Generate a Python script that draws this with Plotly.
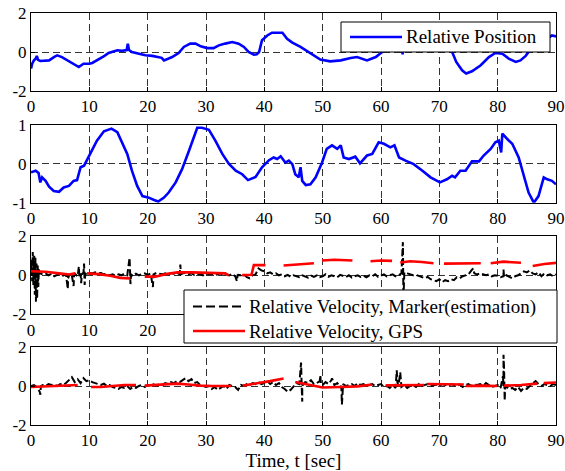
import numpy as np
import plotly.graph_objects as go

FONT = "Times New Roman"

# ---- Panel 1: relative position ----
pos1_t = [0, 0.2, 0.5, 0.8, 1.0, 1.2, 1.6, 2.3, 3.1, 4.0,
          4.5, 5.3, 6.0, 6.8, 7.5, 8.2, 9.0, 10.0, 10.5, 11.2,
          11.9, 12.6, 13.3, 14.0, 14.8, 15.6, 16.4, 16.6, 16.8, 17.3,
          18.5, 19.6, 20.8, 21.9, 22.4, 22.8, 23.5, 24.2, 25.3, 26.2,
          27.3, 28.2, 29.1, 30.2, 31.3, 32.2, 33.3, 34.5, 35.6, 36.5,
          37.3, 38.2, 38.7, 39.1, 39.6, 40.5, 41.3, 42.2, 43.1, 43.9,
          44.8, 46.2, 48.1, 49.6, 51.3, 52.2, 53.1, 54.8, 55.9, 57.6,
          59.1, 60.2, 61.0, 62.0, 63.0, 63.6, 63.7, 63.8, 64.5, 65.5,
          66.5, 67.5, 68.5, 69.5, 70.5, 71.5, 72.2, 72.9, 73.9, 74.6,
          75.6, 77.1, 78.5, 79.6, 80.8, 81.9, 83.1, 83.9, 84.8, 85.3,
          86.0, 87.0, 88.0, 88.8, 89.3, 90.0]
pos1_v = [-0.85, -0.6, -0.43, -0.35, -0.2, -0.4, -0.46, -0.45, -0.43, -0.25,
          -0.17, -0.26, -0.38, -0.5, -0.62, -0.77, -0.6, -0.6, -0.56, -0.45,
          -0.34, -0.2, -0.05, 0.03, 0.09, 0.06, 0.1, 0.43, 0.1, 0.0,
          -0.09, -0.17, -0.2, -0.26, -0.3, -0.43, -0.36, -0.26, -0.05, 0.26,
          0.43, 0.43, 0.29, 0.2, 0.2, 0.34, 0.43, 0.51, 0.43, 0.26,
          0.0, -0.14, -0.12, 0.0, 0.6, 0.85, 0.99, 1.0, 0.99, 0.68,
          0.48, 0.26, -0.09, -0.39, -0.48, -0.44, -0.43, -0.31, -0.26, -0.43,
          -0.26, 0.0, 0.15, 0.25, 0.2, 0.15, -0.12, 0.2, 0.3, 0.4,
          0.5, 0.45, 0.35, 0.3, 0.25, 0.15, 0.0, -0.51, -0.94, -1.1,
          -0.99, -0.68, -0.26, -0.05, -0.09, -0.34, -0.51, -0.43, -0.2, 0.0,
          0.15, 0.35, 0.55, 0.75, 0.85, 0.8]

# ---- Panel 2: relative position, second axis ----
pos2_t = [0, 0.8, 1.3, 1.6, 1.9, 2.5, 3.1, 3.9, 4.8, 5.6,
          6.5, 7.3, 7.9, 8.5, 9.1, 10.2, 11.3, 12.5, 13.8, 14.8,
          15.6, 16.5, 17.3, 18.2, 19.1, 20.2, 21.1, 21.8, 22.8, 23.6,
          24.8, 25.9, 27.1, 27.9, 28.5, 29.3, 30.5, 31.6, 32.8, 33.9,
          35.1, 36.2, 37.2, 38.5, 39.6, 40.8, 41.6, 42.2, 42.8, 43.6,
          44.2, 44.8, 45.3, 45.9, 46.2, 46.5, 47.1, 47.9, 48.8, 49.9,
          50.7, 51.6, 52.5, 53.1, 53.6, 54.5, 55.6, 56.4, 57.6, 58.5,
          59.6, 60.5, 61.6, 62.3, 63.1, 64.2, 65.6, 67.1, 68.5, 70.1,
          71.3, 72.2, 72.7, 73.6, 74.5, 75.6, 76.8, 77.6, 78.8, 79.6,
          80.2, 80.6, 80.8, 81.6, 82.5, 83.6, 84.5, 85.3, 86.2, 87.0,
          87.9, 88.5, 89.3, 90.0]
pos2_v = [-0.22, -0.18, -0.24, -0.48, -0.35, -0.44, -0.59, -0.7, -0.72, -0.61,
          -0.57, -0.44, -0.42, -0.09, -0.05, 0.29, 0.59, 0.83, 0.9, 0.81,
          0.55, 0.25, -0.18, -0.57, -0.83, -0.87, -0.93, -0.97, -0.87, -0.74,
          -0.48, -0.14, 0.34, 0.68, 0.92, 0.92, 0.87, 0.59, 0.25, 0.0,
          -0.18, -0.27, -0.42, -0.34, -0.09, 0.09, 0.16, 0.12, 0.19, 0.03,
          0.08, -0.01, -0.27, -0.35, -0.09, -0.44, -0.55, -0.53, -0.35, 0.03,
          0.38, 0.47, 0.38, 0.47, 0.16, 0.12, 0.18, 0.01, 0.21, 0.25,
          0.55, 0.51, 0.42, 0.47, 0.16, 0.08, -0.01, -0.18, -0.35, -0.48,
          -0.40, -0.31, -0.35, -0.18, -0.18, 0.06, 0.06, 0.21, 0.38, 0.55,
          0.59, 0.29, 0.77, 0.64, 0.51, 0.16, -0.35, -0.74, -1.0, -0.83,
          -0.35, -0.4, -0.44, -0.53]

# ---- Panel 3: relative velocity (marker estimate, sampled every 0.5 s from t=2) ----
vel3_base = [0.05, 0.1, 0.0, 0.08, -0.05, 0.02, 0.1, -0.02, 0.05, -0.1,
             0.0, 0.08, -0.05, 0.1, 0.15, 0.05, 0.12, 0.1, 0.15, 0.1,
             0.12, 0.05, 0.08, 0.0, 0.05, -0.02, 0.05, 0.0, 0.08, 0.0,
             0.05, -0.05, 0.08, 0.0, 0.05, 0.1, 0.02, 0.1, 0.05, 0.12,
             0.08, 0.05, 0.1, 0.02, 0.12, 0.08, 0.15, 0.05, 0.1, 0.12,
             0.05, 0.1, 0.02, 0.08, 0.05, 0.0, 0.1, 0.05, 0.08, 0.02,
             0.05, 0.1, -0.02, 0.05, 0.0, 0.08, -0.05, 0.02, 0.0, 0.05,
             -0.1, -0.15, 0.0, 0.05, 0.35, 0.25, 0.2, 0.1, 0.15, 0.05,
             0.1, 0.0, 0.05, -0.05, 0.02, -0.08, 0.0, -0.05, -0.1, 0.0,
             -0.05, -0.12, -0.02, -0.08, 0.0, -0.1, -0.05, 0.05, -0.08, 0.0,
             -0.05, -0.1, 0.02, -0.05, -0.08, 0.0, -0.12, -0.05, 0.0, -0.08,
             -0.02, -0.1, 0.0, -0.05, 0.05, -0.08, 0.0, 0.05, -0.05, 0.0,
             0.05, -0.05, 0.0, 0.1, 0.15, 0.1, 0.05, 0.0, 0.02, -0.05,
             -0.1, -0.15, -0.08, -0.2, -0.25, -0.3, -0.2, -0.35, -0.25, -0.3,
             -0.2, -0.25, -0.1, -0.15, -0.05, 0.0, 0.05, 0.25, 0.1, 0.05,
             0.1, 0.05, 0.0, 0.05, -0.05, 0.0, -0.02, -0.1, -0.05, 0.0,
             -0.08, -0.15, -0.05, 0.0, 0.1, 0.2, 0.15, 0.25, 0.1, 0.05,
             0.15, -0.05, 0.1, 0.0, 0.05, -0.05, 0.05]
vel3_spike_t = [0, 0.1, 0.2, 0.3, 0.4, 0.55, 0.65, 0.75, 0.85, 0.95,
                1.05, 1.15, 1.25, 1.35, 1.5, 6.3, 6.4, 7.3, 7.4, 8.2,
                8.3, 8.6, 8.7, 9.1, 9.2, 9.3, 16.9, 17.05, 17.15, 20.9,
                21.0, 25.6, 25.7, 35.3, 35.4, 63.75, 63.85, 63.95, 75.8, 81.0,
                81.1]
vel3_spike_v = [0.2, 0.8, -0.3, 1.2, -0.5, 1.0, -1.0, 0.9, -1.35, 0.6,
                -1.2, 0.5, -0.6, 0.3, 0.1, -0.7, 0.05, -0.55, 0.05, 0.45,
                -0.1, -0.4, 0.05, 0.6, -0.5, 0.1, 0.9, -0.45, 0.05, -0.6,
                0.05, 0.55, 0.05, -0.3, 0.0, 1.7, -1.2, 0.1, 0.35, 0.3,
                -0.1]

# GPS velocity, panel 3 (None marks a dropout)
gps3_t = [0, 2.5, 4.8, 6.5, 7.6, None,
          9.6, 11.6, 13.6, 15.3, 17.0, None,
          19.5, 21.3, 23.1, 25.1, 27.6, 31.0, 33.3, 33.9, None,
          36.2, 37.8, 38.2, 40.2, None,
          43.3, 46.0, 48.5, None,
          49.9, 52.0, 55.1, None,
          58.2, 60.0, 61.9, None,
          63.3, 65.0, 67.0, 69.0, None,
          70.8, 74.0, 77.1, None,
          78.8, 81.0, 84.0, None,
          86.0, 88.0, 90.0]
gps3_v = [0.21, 0.18, 0.1, 0.04, 0.1, None,
          0.1, 0.06, -0.02, -0.13, -0.16, None,
          -0.07, -0.07, 0.06, 0.15, 0.15, 0.13, 0.1, 0.0, None,
          0.01, 0.03, 0.52, 0.52, None,
          0.5, 0.55, 0.62, None,
          0.76, 0.8, 0.76, None,
          0.72, 0.76, 0.74, None,
          0.66, 0.72, 0.68, 0.62, None,
          0.6, 0.6, 0.62, None,
          0.62, 0.7, 0.64, None,
          0.48, 0.58, 0.64]

# ---- Panel 4: relative velocity, second axis (sampled every 0.5 s from t=0) ----
vel4_base = [0.0, 0.05, -0.05, -0.3, 0.05, 0.0, 0.1, 0.05, 0.08, 0.0,
             0.1, 0.05, 0.15, 0.3, 0.45, 0.2, 0.35, 0.15, 0.4, 0.25,
             0.3, 0.2, 0.15, 0.1, 0.05, 0.12, 0.0, 0.05, -0.05, -0.1,
             -0.15, -0.05, -0.1, 0.0, -0.15, -0.05, -0.1, 0.0, 0.05, -0.05,
             0.05, 0.0, 0.08, 0.02, 0.1, 0.05, 0.15, 0.1, 0.2, 0.15,
             0.25, 0.2, 0.3, 0.4, 0.25, 0.35, 0.15, 0.2, 0.05, 0.0,
             -0.05, 0.0, -0.15, -0.05, -0.2, -0.1, 0.0, -0.15, 0.05, 0.0,
             -0.05, -0.2, 0.05, 0.0, 0.1, 0.05, 0.15, 0.1, 0.2, 0.1,
             0.15, 0.25, 0.1, 0.2, 0.05, 0.15, -0.05, -0.15, -0.3, -0.2,
             0.0, 0.15, 0.1, 0.05, 0.2, 0.15, 0.3, 0.1, 0.15, 0.25,
             0.05, 0.2, 0.1, 0.3, 0.05, 0.15, -0.05, 0.1, 0.0, 0.05,
             0.1, 0.0, 0.15, 0.05, 0.1, 0.0, 0.05, 0.1, 0.0, 0.05,
             0.1, -0.05, 0.0, -0.1, 0.05, -0.1, 0.0, -0.05, 0.05, -0.1,
             0.0, 0.05, -0.05, 0.1, 0.0, 0.05, 0.1, 0.0, 0.05, 0.08,
             0.0, 0.1, 0.05, 0.0, 0.1, 0.05, 0.0, 0.08, -0.05, 0.05,
             0.1, 0.0, 0.08, 0.05, 0.1, 0.0, 0.15, 0.05, -0.05, 0.0,
             0.05, -0.1, 0.0, -0.05, -0.15, -0.1, -0.2, -0.05, -0.25, -0.1,
             -0.15, 0.0, 0.15, 0.25, 0.1, 0.0, 0.1, 0.05, 0.0, 0.1,
             0.05]
vel4_spike_t = [1.6, 1.7, 46.3, 46.4, 46.5, 46.6, 49.6, 49.7, 51.6, 53.2,
                53.3, 53.4, 62.7, 62.8, 63.3, 63.4, 80.9, 81.0, 81.1, 81.2,
                81.3]
vel4_spike_v = [-0.45, 0.0, 1.2, 0.0, -0.8, 0.05, 0.55, 0.1, 0.4, 0.0,
                -0.95, 0.0, 0.8, 0.2, 0.7, 0.1, 0.5, 1.6, 0.9, -0.75,
                0.0]

gps4_t = [0, 3, 5.5, 8.0, None,
          10.3, 12, 14, 16, 18.0, None,
          19.5, 22, 25, 27, 29, 31, 34.3, None,
          36.3, 38.5, 41, 43.3, None,
          45.3, 47.5, 50, 53, 56, 58.5, None,
          60.8, 64, 67.4, None,
          67.9, 71, 74.2, None,
          74.5, 77, 79.9, None,
          81.1, 84, 86.8, None,
          87.9, 90]
gps4_v = [-0.05, 0.0, 0.02, 0.05, None,
          -0.05, -0.05, 0.0, 0.05, 0.05, None,
          0.02, 0.06, 0.12, 0.08, 0.02, 0.0, 0.0, None,
          0.02, 0.12, 0.25, 0.38, None,
          0.2, 0.08, -0.08, -0.05, -0.02, 0.08, None,
          0.03, 0.05, 0.05, None,
          0.1, 0.08, 0.08, None,
          0.0, 0.02, 0.0, None,
          0.02, 0.05, 0.12, None,
          0.15, 0.18]

x_ticks = [0, 10, 20, 30, 40, 50, 60, 70, 80, 90]
# the lower legend sits over the third panel's labels from 30 s on
x_labels_p3 = ["0", "10", "20", "", "", "", "", "", "", ""]

NAME_POS = "Relative Position"
NAME_MARKER = "Relative Velocity, Marker(estimation)"
NAME_GPS = "Relative Velocity, GPS"


def merged(t0, base, extra_t, extra_v):
    """Combine a regularly sampled record with extra samples, ordered by time."""
    t_base = list(t0 + 0.5 * np.arange(len(base)))
    pts = sorted(zip(t_base + list(extra_t), list(base) + list(extra_v)))
    return [p[0] for p in pts], [p[1] for p in pts]


vel3_t, vel3_v = merged(2.0, vel3_base, vel3_spike_t, vel3_spike_v)
vel4_t, vel4_v = merged(0.0, vel4_base, vel4_spike_t, vel4_spike_v)

BLUE = "#0000ff"
RED = "#ff0000"
BLACK = "#000000"
W_BLUE, W_RED, W_BLACK = 2.6, 2.6, 2.0
DASH = "7px,3px"

fig = go.Figure()
fig.add_trace(go.Scatter(x=pos1_t, y=pos1_v, mode="lines", name=NAME_POS,
                         line=dict(color=BLUE, width=W_BLUE), xaxis="x", yaxis="y"))
fig.add_trace(go.Scatter(x=pos2_t, y=pos2_v, mode="lines", name=NAME_POS,
                         line=dict(color=BLUE, width=W_BLUE), xaxis="x2", yaxis="y2"))
fig.add_trace(go.Scatter(x=vel3_t, y=vel3_v, mode="lines", name=NAME_MARKER,
                         line=dict(color=BLACK, width=W_BLACK, dash=DASH),
                         xaxis="x3", yaxis="y3"))
fig.add_trace(go.Scatter(x=gps3_t, y=gps3_v, mode="lines", name=NAME_GPS,
                         line=dict(color=RED, width=W_RED), xaxis="x3", yaxis="y3"))
fig.add_trace(go.Scatter(x=vel4_t, y=vel4_v, mode="lines", name=NAME_MARKER,
                         line=dict(color=BLACK, width=W_BLACK, dash=DASH),
                         xaxis="x4", yaxis="y4"))
fig.add_trace(go.Scatter(x=gps4_t, y=gps4_v, mode="lines", name=NAME_GPS,
                         line=dict(color=RED, width=W_RED), xaxis="x4", yaxis="y4"))

# ---- page geometry (pixels) ----
W, H = 565, 471
ML, MR, MT, MB = 31, 9, 13, 46
PW, PH = W - ML - MR, H - MT - MB


def px_x(px):
    return (px - ML) / PW


def px_y(py):
    return (H - MB - py) / PH


tick_font = dict(family=FONT, size=17, color="black")
grid = dict(showgrid=True, gridcolor="#333333", gridwidth=1, griddash="7px,4px",
            showline=True, linecolor="black", linewidth=1, mirror=True,
            ticks="inside", ticklen=4, tickcolor="black", tickfont=tick_font,
            zeroline=False, automargin=False)

panel_px = [(13, 91), (124.7, 202.7), (236.3, 314.3), (347, 425)]
y_ranges = [[-2, 2], [-1, 1], [-2, 2], [-2, 2]]
y_ticks = [[-2, 0, 2], [-1, 0, 1], [-2, 0, 2], [-2, 0, 2]]

layout = dict(
    width=W, height=H, showlegend=False,
    margin=dict(l=ML, r=MR, t=MT, b=MB, autoexpand=False),
    paper_bgcolor="white", plot_bgcolor="white",
    font=dict(family=FONT, color="black"),
)
for i in range(4):
    sfx = "" if i == 0 else str(i + 1)
    top, bot = panel_px[i]
    labels = x_labels_p3 if i == 2 else [str(v) for v in x_ticks]
    layout["xaxis" + sfx] = dict(grid, domain=[0, 1], range=[0, 90], tickvals=x_ticks,
                                 ticktext=labels, anchor="y" + sfx)
    layout["yaxis" + sfx] = dict(grid, domain=[max(px_y(bot), 0), min(px_y(top), 1)],
                                 range=y_ranges[i], tickvals=y_ticks[i],
                                 ticktext=[str(v) for v in y_ticks[i]], anchor="x" + sfx)
layout["xaxis4"]["title"] = dict(text="Time, t [sec]", font=dict(family=FONT, size=19),
                                 standoff=6)
fig.update_layout(**layout)

# ---- legend boxes, drawn on top of the panels ----
LEG_FONT = dict(family=FONT, size=19, color="black")


def legend_box(x0, y0, x1, y1, rows):
    fig.add_shape(type="rect", xref="paper", yref="paper", layer="above",
                  x0=px_x(x0), x1=px_x(x1), y0=px_y(y1), y1=px_y(y0),
                  line=dict(color="black", width=1), fillcolor="white")
    for (yc, name, color, width, dash) in rows:
        fig.add_shape(type="line", xref="paper", yref="paper", layer="above",
                      x0=px_x(x0 + 9), x1=px_x(x0 + 61), y0=px_y(yc), y1=px_y(yc),
                      line=dict(color=color, width=width, dash=dash))
        fig.add_annotation(text=name, xref="paper", yref="paper", showarrow=False,
                           x=px_x(x0 + 63), y=px_y(yc), xanchor="left", yanchor="middle",
                           font=LEG_FONT)


legend_box(341, 22, 550, 52, [(37, NAME_POS, BLUE, W_BLUE, "solid")])
legend_box(184, 290, 557, 343, [(306.5, NAME_MARKER, BLACK, W_BLACK, "9px,4px"),
                                (331, NAME_GPS, RED, W_RED, "solid")])

fig.write_html("out.html")
